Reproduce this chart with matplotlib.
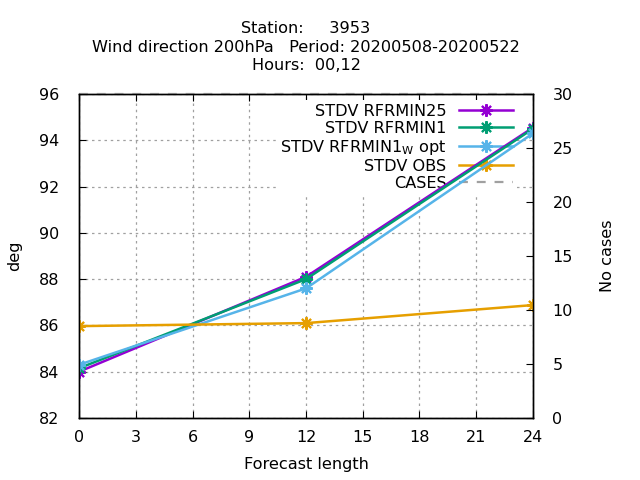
import matplotlib
matplotlib.use("Agg")
import matplotlib.pyplot as plt

# forecast lengths (hours)
lead = [0, 12, 24]

# STDV of wind direction (deg)
rfrmin25 = [84.0, 88.1, 94.55]
rfrmin1 = [84.15, 88.0, 94.5]
rfrmin1_wopt = [84.3, 87.6, 94.3]
obs = [85.97, 86.1, 86.88]

# number of cases (right axis)
cases = [30, 30, 30]

xticks = list(range(0, 25, 3))
yticks = list(range(82, 97, 2))
y2ticks = list(range(0, 31, 5))

FS = 11.6
plt.rcParams["font.family"] = "DejaVu Sans"
plt.rcParams["font.size"] = FS

fig = plt.figure(figsize=(6.4, 4.8), dpi=100)
ax = fig.add_axes([79 / 640, 1 - 418 / 480, (533 - 79) / 640, (418 - 94) / 480])
ax2 = ax.twinx()

mk = dict(marker=(8, 2, 0), markersize=9, markeredgewidth=1.5, lw=1.8, zorder=3)
l1, = ax.plot(lead, rfrmin25, color="#9400d3", label="STDV RFRMIN25", **mk)
l2, = ax.plot(lead, rfrmin1, color="#009e73", label="STDV RFRMIN1", **mk)
l3, = ax.plot(lead, rfrmin1_wopt, color="#56b4e9",
              label=r"STDV RFRMIN1$_{\mathregular{W}}$ opt", **mk)
l4, = ax.plot(lead, obs, color="#e69f00", label="STDV OBS", **mk)
l5, = ax2.plot(lead, cases, color="#a0a0a0", ls=(0, (4, 4)), lw=1.6,
               label="CASES", clip_on=False)

ax.set_xlim(0, 24)
ax.set_ylim(82, 96)
ax2.set_ylim(0, 30)
ax.set_xticks(xticks)
ax.set_yticks(yticks)
ax2.set_yticks(y2ticks)

ax.set_axisbelow(True)
ax.grid(True, color="#a0a0a0", ls=(0, (2, 3)), lw=0.9)
ax.tick_params(direction="in", top=True, length=5, labelsize=11.5)
ax.tick_params(axis="x", pad=9)
ax.tick_params(axis="y", pad=14)
ax2.tick_params(direction="in", length=5, pad=14, labelsize=11.5)

ax.set_xlabel("Forecast length", labelpad=8)
fig.text(15 / 640, 1 - 256 / 480, "deg", rotation=90, ha="center", va="center")
fig.text(607 / 640, 1 - 256 / 480, "No cases", rotation=90, ha="center", va="center")

ax.set_title("Station:     3953\nWind direction 200hPa   Period: 20200508-20200522\nHours:  00,12",
             fontsize=FS, linespacing=1.3, pad=17)

leg = ax.legend(handles=[l1, l2, l3, l4, l5], loc="upper right",
                bbox_to_anchor=(0.98, 1.005), markerfirst=False, frameon=True,
                fancybox=False, edgecolor="none", framealpha=1.0,
                handlelength=3.3, handletextpad=0.8, labelspacing=0.13,
                borderpad=0.2, fontsize=FS)
leg.set_zorder(1)
for t in leg.get_texts():
    t.set_ha("right")
leg._legend_box.align = "right"

for a in (ax, ax2):
    for s in a.spines.values():
        s.set_linewidth(1.0)

fig.savefig("out.png", dpi=100)
